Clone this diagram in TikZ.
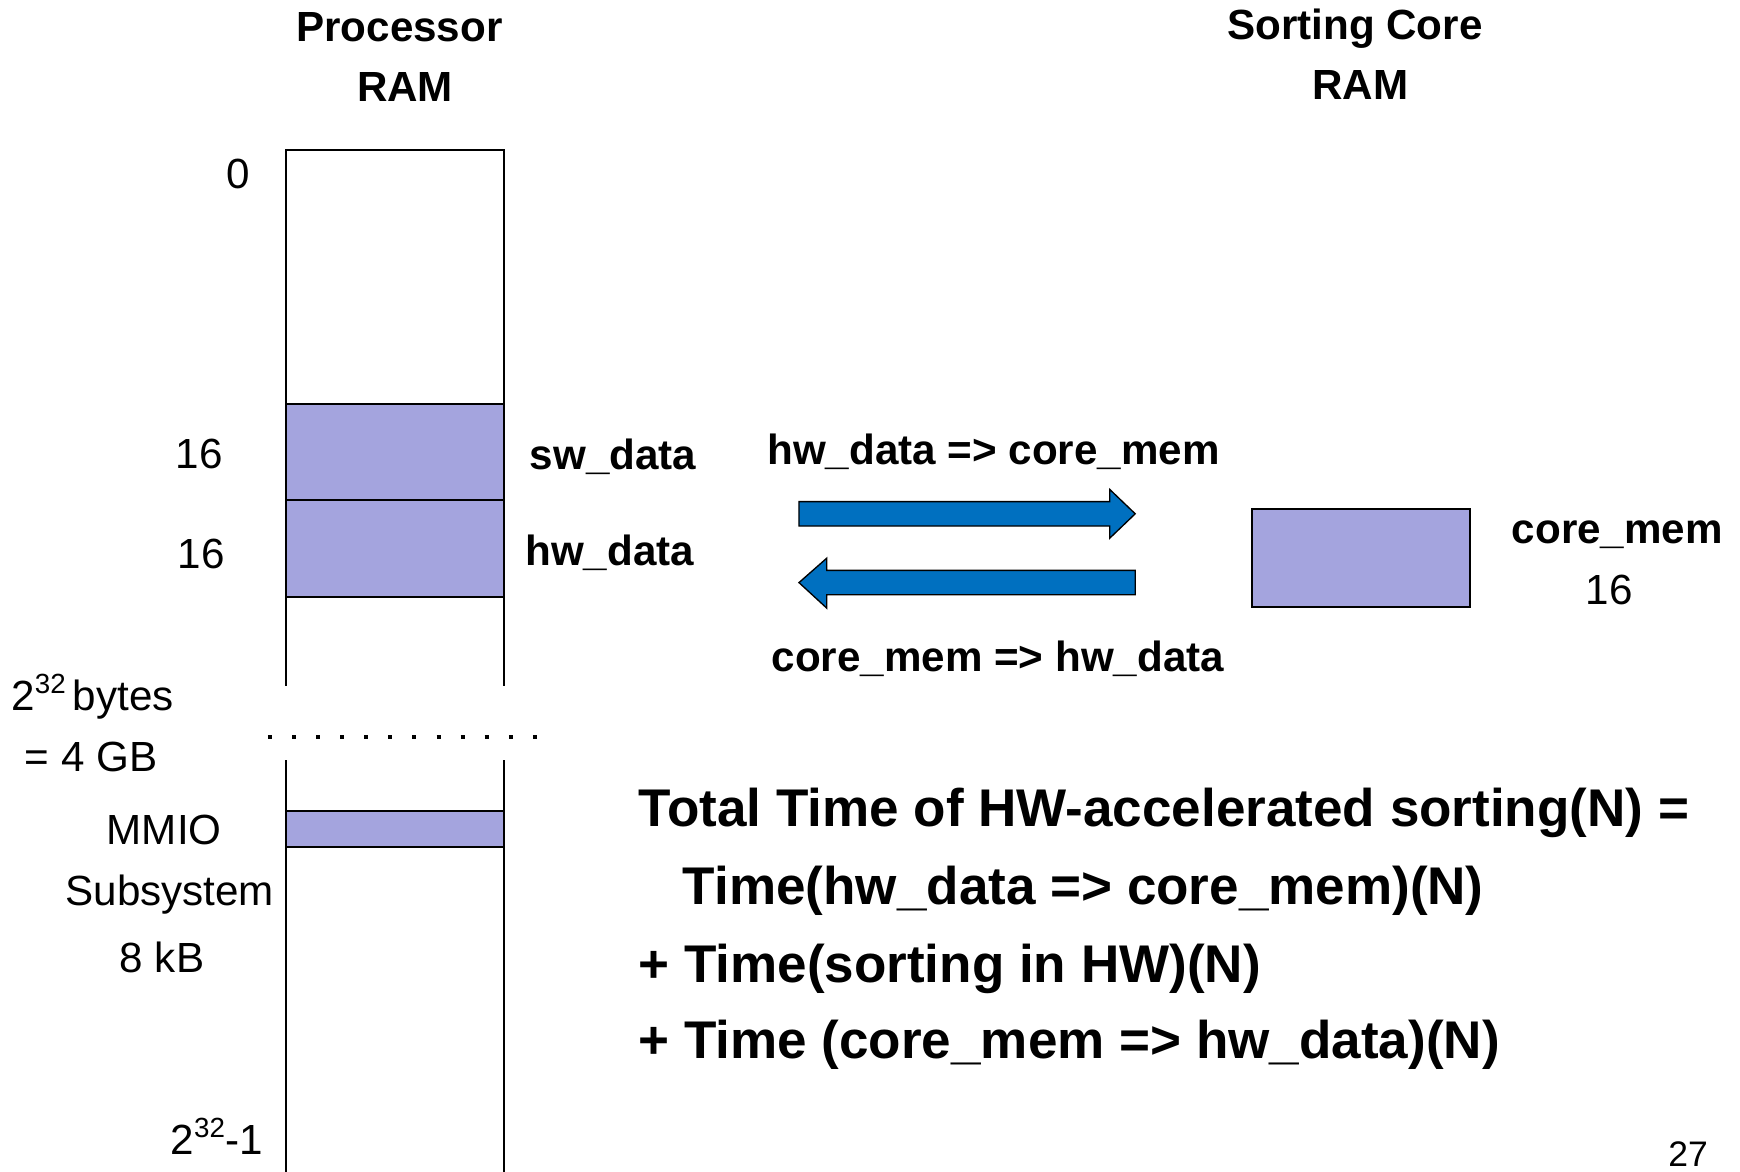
\documentclass[tikz,border=0pt]{standalone}
\usepackage{fontspec}
\setmainfont{Liberation Sans}
\definecolor{band}{HTML}{A4A4DE}
\definecolor{flow}{HTML}{0070C0}
% small raised exponent
\newcommand{\expo}[1]{\raisebox{0.40em}{\fontsize{12.5}{12.5}\selectfont #1}}
\tikzset{
  lbl/.style={font=\fontsize{19}{23}\selectfont, inner sep=0pt},
  blbl/.style={font=\fontsize{19}{23}\selectfont\bfseries, inner sep=0pt},
  bigline/.style={font=\fontsize{23.9}{28}\selectfont\bfseries, inner sep=0pt, anchor=base west},
  ramline/.style={line width=0.9pt},
  bandbox/.style={draw=black, fill=band, line width=0.9pt},
  flowarrow/.style={fill=flow, draw=black, line width=0.6pt, line join=miter},
}
\begin{document}
\begin{tikzpicture}[x=0.5pt,y=-0.5pt]
\useasboundingbox (0,0) rectangle (1568,1056);

% titles
\node[blbl, anchor=base] (ptitle) at (360,37.5) {Processor};
\node[blbl, anchor=base] (pram)   at (365,91.5) {RAM};
\node[blbl, anchor=base] (stitle) at (1221,35.5) {Sorting Core};
\node[blbl, anchor=base] (sram)   at (1226,89.5) {RAM};

% processor memory column
\draw[ramline] (258,618) -- (258,135) -- (454,135) -- (454,618);
\draw[ramline] (258,685) -- (258,1060);
\draw[ramline] (454,685) -- (454,1060);
\draw[line width=1.8pt, dash pattern=on 1.8pt off 9.05pt] (241.5,664) -- (484,664);

\draw[bandbox] (258,364) rectangle (454,451);
\draw[bandbox] (258,451) rectangle (454,538);
\draw[bandbox] (258,731) rectangle (454,763);

% address labels
\node[lbl, anchor=base east] (a0)   at (226,169.5) {0};
\node[lbl, anchor=base east] (a16a) at (201,422.5) {16};
\node[lbl, anchor=base east] (a16b) at (203,512.5) {16};
\node[lbl, anchor=base west] (bytes) at (10,640) {2\expo{32}\,bytes};
\node[lbl, anchor=base west] (gb)    at (22,695) {= 4 GB};
\node[lbl, anchor=base] (mmio)  at (148,761) {MMIO};
\node[lbl, anchor=base] (subs)  at (153,816) {Subsystem};
\node[lbl, anchor=base] (kb)    at (146,876) {8 kB};
\node[lbl, anchor=base east] (alast) at (237,1040) {2\expo{32}-1};

% region names
\node[blbl, anchor=base west] (swname) at (477,423) {sw\_data};
\node[blbl, anchor=base west] (hwname) at (473,510) {hw\_data};

% transfers
\node[blbl, anchor=base west] (tin)  at (691,419) {hw\_data => core\_mem};
\node[blbl, anchor=base west] (tout) at (695,605) {core\_mem => hw\_data};
\draw[flowarrow] (720,452) -- (1000,452) -- (1000,441) -- (1023,463)
  -- (1000,485) -- (1000,474) -- (720,474) -- cycle;
\draw[flowarrow] (1023,514) -- (745,514) -- (745,503) -- (720,525)
  -- (745,548) -- (745,536) -- (1023,536) -- cycle;

% sorting core memory
\draw[bandbox] (1128,459) rectangle (1325,547);
\node[blbl, anchor=base west] (cname) at (1362,490) {core\_mem};
\node[lbl, anchor=base] (csize) at (1450,545) {16};

% total time
\node[bigline] (t1) at (575,745) {Total Time of HW-accelerated sorting(N) =};
\node[bigline] (t2) at (615,815) {Time(hw\_data => core\_mem)(N)};
\node[bigline] (t3) at (575,885) {+ Time(sorting in HW)(N)};
\node[bigline] (t4) at (575,954) {+ Time (core\_mem => hw\_data)(N)};

% page number
\node[font=\fontsize{16}{18}\selectfont, inner sep=0pt, text depth=0pt, anchor=base west] (pg) at (1503,1051) {27};
\end{tikzpicture}
\end{document}
